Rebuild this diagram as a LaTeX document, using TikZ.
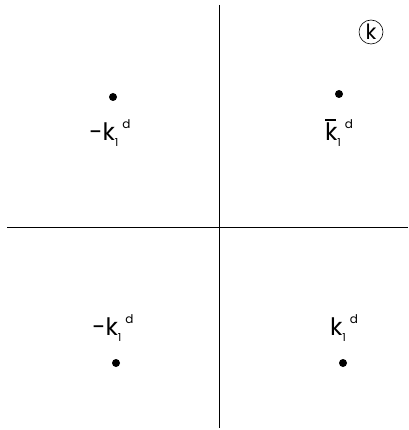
\documentclass[tikz,border=0pt]{standalone}
\usepackage{fontspec}
\setmainfont{Poppins}
\tikzset{
  pt/.style={circle, fill=black, inner sep=0pt, minimum size=8pt},
  lbl/.style={font=\fontsize{24}{26}\selectfont, inner sep=0pt}
}
\newcommand{\kdlabel}[1]{#1\raisebox{-6pt}{\fontsize{11}{11}\selectfont 1}\hspace{4pt}\raisebox{12pt}{\fontsize{12}{12}\selectfont d}}
\newcommand{\kbar}{\makebox[0pt][l]{\raisebox{20pt}{\rule{11pt}{1.2pt}}}k}
\begin{document}
\begin{tikzpicture}[x=1pt, y=-1pt]
    \useasboundingbox (0,0) rectangle (408,430);

    % Axes
    \coordinate (top) at (219,5);
    \coordinate (bottom) at (219,428);
    \coordinate (left) at (7,227);
    \coordinate (right) at (408,227);
    \draw[line width=0.8pt] (top) -- (bottom);
    \draw[line width=0.8pt] (left) -- (right);

    % Plane label
    \node[circle, draw, line width=0.6pt, minimum size=24pt, inner sep=0pt, font=\fontsize{21}{21}\selectfont] (kplane) at (371,32) {k};

    % Points
    \node[pt] (p1) at (113,97) {};
    \node[pt] (p2) at (339,94) {};
    \node[pt] (p3) at (116,363) {};
    \node[pt] (p4) at (343,363) {};

    % Labels
    \node[lbl] (l1) at (110,133) {\kdlabel{-k}};
    \node[lbl] (l2) at (339,133) {\kdlabel{\kbar}};
    \node[lbl] (l3) at (113,328) {\kdlabel{-k}};
    \node[lbl] (l4) at (344,328) {\kdlabel{k}};

\end{tikzpicture}
\end{document}
